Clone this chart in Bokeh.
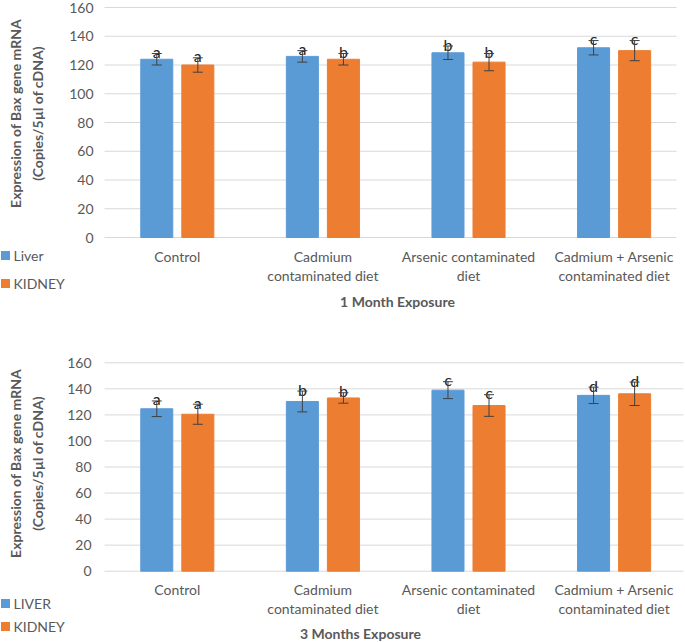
from bokeh.plotting import figure
from bokeh.layouts import column
from bokeh.models import ColumnDataSource, Whisker, TeeHead
from bokeh.core.properties import value
from bokeh.embed import file_html
from bokeh.resources import INLINE

# ---------------- data ----------------
categories = ["Control", "Cadmium contaminated diet", "Arsenic contaminated diet",
              "Cadmium + Arsenic contaminated diet"]
cat_line1 = ["Control", "Cadmium", "Arsenic contaminated", "Cadmium + Arsenic"]
cat_line2 = ["", "contaminated diet", "diet", "contaminated diet"]
y_ticks = [0, 20, 40, 60, 80, 100, 120, 140, 160]

m1_liver = [124, 126, 128.5, 132]
m1_liver_err = [4, 4, 4.7, 5]
m1_kidney = [120, 124, 122, 130]
m1_kidney_err = [5, 4, 6, 7]
m1_liver_sig = ["a", "a", "b", "c"]
m1_kidney_sig = ["a", "b", "b", "c"]

m3_liver = [124.7, 130.3, 139, 135]
m3_liver_err = [6, 8, 6.5, 6.3]
m3_kidney = [120.5, 133, 127.2, 136.2]
m3_kidney_err = [7.7, 4, 8.3, 9]
m3_liver_sig = ["a", "b", "c", "d"]
m3_kidney_sig = ["a", "b", "c", "d"]

y_title = ["Expression of Bax gene mRNA", "(Copies/5\u00b5l of cDNA)"]

# ---------------- style ----------------
BLUE = "#5B9BD5"
ORANGE = "#ED7D31"
GRID = "#D9D9D9"
TXT = "#595959"
ERR = "#404040"
FONT = value("Lato")

W = 685
X0 = 104.0   # pixel of category axis start (reference coords)
SX = 145.6   # pixels per category


def xd(ref_x):
    return (ref_x - X0) / SX


def panel(height, fig_top_ref, zero_ref, ppu, grid_end,
          liver, liver_err, kidney, kidney_err, liver_sig, kidney_sig,
          legend_labels, xtitle, pos):
    zero_f = zero_ref - fig_top_ref

    def yd(ref_y):
        yf = ref_y - fig_top_ref
        return (zero_f - yf) / ppu

    y_end = zero_f / ppu
    y_start = -(height - zero_f) / ppu
    p = figure(width=W, height=height, x_range=(xd(0), xd(W)),
               y_range=(y_start, y_end), toolbar_location=None,
               output_backend="svg", min_border=0)
    p.axis.visible = False
    p.grid.visible = False
    p.outline_line_color = None
    p.background_fill_color = "white"

    # gridlines
    p.segment(x0=[0] * len(y_ticks), x1=[grid_end] * len(y_ticks),
              y0=y_ticks, y1=y_ticks, line_color=GRID, line_width=1)
    # y tick labels
    p.text(x=[xd(pos["tick_x"])] * len(y_ticks), y=y_ticks,
           text=[str(t) for t in y_ticks], text_align="right",
           text_baseline="middle", text_font=FONT, text_font_size="14px",
           text_color=TXT)

    n = len(categories)
    off = 0.141
    bw = 0.22
    xs_l = [i + 0.5 - off for i in range(n)]
    xs_k = [i + 0.5 + off for i in range(n)]

    p.vbar(x=xs_l, top=liver, bottom=0, width=bw, fill_color=BLUE,
           line_color=BLUE)
    p.vbar(x=xs_k, top=kidney, bottom=0, width=bw, fill_color=ORANGE,
           line_color=ORANGE)

    for xs, vals, errs, sig in ((xs_l, liver, liver_err, liver_sig),
                                (xs_k, kidney, kidney_err, kidney_sig)):
        up = [v + e for v, e in zip(vals, errs)]
        lo = [v - e for v, e in zip(vals, errs)]
        src = ColumnDataSource(dict(base=xs, upper=up, lower=lo))
        p.add_layout(Whisker(source=src, base="base", upper="upper",
                             lower="lower", line_color=ERR, line_width=1,
                             level="annotation",
                             upper_head=TeeHead(size=10, line_color=ERR,
                                                line_width=1),
                             lower_head=TeeHead(size=10, line_color=ERR,
                                                line_width=1)))
        p.text(x=xs, y=up, text=sig, text_align="center", y_offset=-2,
               text_baseline="alphabetic", text_font=FONT,
               text_font_size="16px", text_color="#262626")

    # category labels
    xc = [i + 0.5 for i in range(n)]
    p.text(x=xc, y=[yd(pos["cat1"])] * n, text=cat_line1, text_align="center",
           text_baseline="middle", text_font=FONT, text_font_size="14px",
           text_color=TXT)
    p.text(x=xc, y=[yd(pos["cat2"])] * n, text=cat_line2, text_align="center",
           text_baseline="middle", text_font=FONT, text_font_size="14px",
           text_color=TXT)

    # x title
    p.text(x=[xd(pos["title_x"])], y=[yd(pos["title_y"])], text=[xtitle],
           text_align="center", text_baseline="middle", text_font=FONT,
           text_font_size="14px", text_font_style="bold", text_color=TXT)

    # y title (rotated, two lines)
    p.text(x=[xd(15), xd(37)], y=[yd(pos["yt_y"])] * 2, text=y_title,
           angle=1.5707963, text_align="center", text_baseline="middle",
           text_font=FONT, text_font_size="14px", text_font_style="bold",
           text_color=TXT)

    # legend
    ly = [yd(pos["leg1"]), yd(pos["leg2"])]
    p.scatter(x=[xd(5)] * 2, y=ly, marker="square", size=9,
              fill_color=[BLUE, ORANGE], line_color=None)
    p.text(x=[xd(13)] * 2, y=ly, text=legend_labels, text_align="left",
           text_baseline="middle", text_font=FONT, text_font_size="14px",
           text_color=TXT)
    return p


p1 = panel(320, 0, 237, 1.4375, xd(676),
           m1_liver, m1_liver_err, m1_kidney, m1_kidney_err,
           m1_liver_sig, m1_kidney_sig, ["Liver", "KIDNEY"],
           "1 Month Exposure",
           dict(tick_x=93, cat1=256, cat2=275, title_x=397, title_y=301,
                yt_y=113, leg1=255, leg2=283))

p2 = panel(322, 320, 570.7, 1.3025, xd(683),
           m3_liver, m3_liver_err, m3_kidney, m3_kidney_err,
           m3_liver_sig, m3_kidney_sig, ["LIVER", "KIDNEY"],
           "3 Months Exposure",
           dict(tick_x=91, cat1=589, cat2=608, title_x=360, title_y=633,
                yt_y=463, leg1=603, leg2=626))

layout = column(p1, p2, spacing=0)
open("out.html", "w").write(file_html(layout, INLINE))
